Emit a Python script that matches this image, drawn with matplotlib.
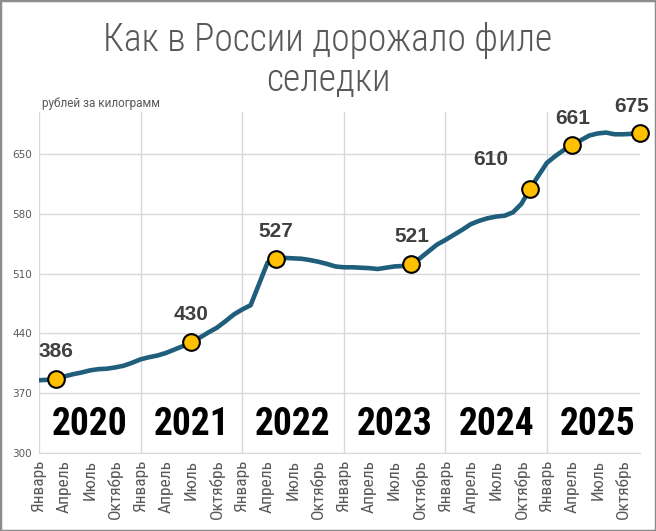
import numpy as np
import matplotlib.pyplot as plt
from matplotlib.patches import Rectangle

# цена филе сельди, руб/кг, помесячно январь 2020 - декабрь 2025
prices = [385, 385.5, 386.5, 389.5, 392, 394, 396.5, 398, 398.5, 400, 402, 405.5,
          409.5, 412, 414, 417, 421, 425, 430, 435, 441, 446.5, 454, 462,
          468, 473, 498, 523, 527.5, 528.5, 528, 527.5, 526, 524, 521.5, 518.5,
          517.5, 517.5, 517, 516.5, 515.5, 517, 518.5, 519, 521.5, 528, 536, 544,
          549.5, 555.5, 561.5, 568, 572, 575, 577, 578, 582, 592, 609.5, 625,
          640, 648, 655, 660.5, 666.5, 672, 674.5, 675.5, 673.5, 673.5, 674, 675]
month_names = ['Январь', 'Апрель', 'Июль', 'Октябрь']
years = ['2020', '2021', '2022', '2023', '2024', '2025']
marked_idx = [2, 18, 28, 44, 58, 63, 71]
marked_text = ['386', '430', '527', '521', '610', '661', '675']
yticks = [300, 370, 440, 510, 580, 650]

narrow = ['Roboto Condensed', 'PT Sans Narrow', 'Archivo Narrow', 'Liberation Sans']
gray = '#595959'

fig = plt.figure(figsize=(6.56, 5.31), dpi=100)
ax = fig.add_axes([39/656, 1 - 452.7/531, 601/656, 341/531])

x = np.arange(len(prices))
ax.plot(x, prices, color='#1f5f7b', lw=3.3, solid_capstyle='round', zorder=3)
ax.plot(marked_idx, [prices[i] for i in marked_idx], 'o', ms=12, mfc='#ffc000',
        mec='black', mew=1.5, zorder=4, clip_on=False)

offsets = {'610': (-39, 29), '675': (-8, 27)}
for i, t in zip(marked_idx, marked_text):
    dx, dy = offsets.get(t, (0, 27))
    ax.annotate(t, (i, prices[i]), xytext=(dx, dy), textcoords='offset pixels',
                ha='center', va='center', fontsize=15, fontweight='bold',
                color='#404040', family=['Liberation Sans', 'DejaVu Sans'])

for k, yr in enumerate(years):
    ax.text(6 + 12 * k, 333, yr, ha='center', va='center', fontsize=27,
            fontweight='bold', color='black', family=narrow)

ax.set_xlim(0, 71)
ax.set_ylim(300, 700)
ax.set_yticks(yticks)
ax.set_yticklabels([str(v) for v in yticks], fontsize=7.5, color=gray)
ax.set_xticks(np.arange(0, 72, 3))
ax.set_xticklabels(month_names * 6, rotation=90, fontsize=12.5, color=gray,
                   family=narrow)
ax.tick_params(length=0, pad=5)

ax.grid(axis='y', color='#d9d9d9', lw=1)
for j in range(0, 72, 12):
    ax.axvline(j, color='#d9d9d9', lw=1, zorder=0)
for s in ['top', 'right', 'left']:
    ax.spines[s].set_visible(False)
ax.spines['bottom'].set_color('#d9d9d9')
ax.set_axisbelow(True)

fig.text(328/656, 1 - 40/531, 'Как в России дорожало филе', ha='center',
         va='center', fontsize=27, fontweight='light', color=gray, family=narrow)
fig.text(328/656, 1 - 80/531, 'селедки', ha='center', va='center',
         fontsize=27, fontweight='light', color=gray, family=narrow)
fig.text(42/656, 1 - 104/531, 'рублей за килограмм', ha='left', va='center',
         fontsize=8.5, color=gray, family=['Roboto', 'DejaVu Sans'])

fig.patches.append(Rectangle((0, 0), 1, 1, transform=fig.transFigure,
                             fill=False, ec='#8c8c8c', lw=2.5))

fig.savefig('out.png', dpi=100)
